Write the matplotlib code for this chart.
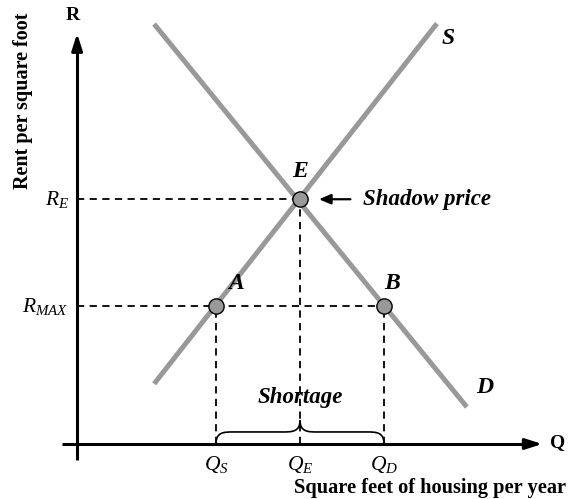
import matplotlib
matplotlib.use("Agg")
import matplotlib.pyplot as plt
from matplotlib.path import Path
from matplotlib.patches import PathPatch

plt.rcParams['font.family'] = ['Liberation Serif', 'DejaVu Serif']
plt.rcParams['mathtext.fontset'] = 'custom'
plt.rcParams['mathtext.rm'] = 'Liberation Serif'
plt.rcParams['mathtext.it'] = 'Liberation Serif:italic'
plt.rcParams['mathtext.bf'] = 'Liberation Serif:bold'

# ---- data (economic units) ----
supply_q = [2.79, 12.89]
supply_r = [2.25, 15.72]
demand_q = [2.79, 13.96]
demand_r = [15.70, 1.38]
Q_S, Q_E, Q_D = 5.0, 8.0, 11.0
R_MAX, R_E = 5.15, 9.15
points_q = [Q_S, Q_E, Q_D]
points_r = [R_MAX, R_E, R_MAX]
q_tick_labels = [r'$Q_S$', r'$Q_E$', r'$Q_D$']
r_tick_labels = [r'$R_{MAX}$', r'$R_E$']

fig = plt.figure(figsize=(5.69, 4.99), dpi=100)
ax = fig.add_axes([0, 0, 1, 1])
ax.set_xlim(-2.714, 17.607)
ax.set_ylim(-2.056, 16.598)
ax.axis('off')

# axes with arrows
ax.plot([0.04, 0.04], [-0.6, 15.0], color='black', lw=2.2, solid_capstyle='butt')
ax.annotate('', xy=(0.04, 15.45), xytext=(0.04, 14.6),
            arrowprops=dict(arrowstyle='-|>,head_length=1.0,head_width=0.32', color='black', lw=2.2))
ax.plot([-0.5, 16.3], [0, 0], color='black', lw=2.2, solid_capstyle='butt')
ax.annotate('', xy=(16.75, 0), xytext=(15.9, 0),
            arrowprops=dict(arrowstyle='-|>,head_length=1.0,head_width=0.32', color='black', lw=2.2))

# curves
curve_color = '#999999'
ax.plot(supply_q, supply_r, color=curve_color, lw=3.6, solid_capstyle='butt', zorder=3)
ax.plot(demand_q, demand_r, color=curve_color, lw=3.6, solid_capstyle='butt', zorder=3)

# dashed guides
dash = dict(color='black', lw=1.3, dashes=(4, 3), zorder=2)
ax.plot([0.04, Q_E], [R_E, R_E], **dash)
ax.plot([0.04, Q_D], [R_MAX, R_MAX], **dash)
for q, r in zip(points_q, points_r):
    ax.plot([q, q], [0, r], **dash)

# points
ax.plot(points_q, points_r, 'o', ms=11, mfc='#999999', mec='black', mew=1.0, zorder=5)

lab_kw = dict(fontsize=17, fontweight='bold', fontstyle='italic', ha='center', va='center')
ax.text(Q_S + 0.7, R_MAX + 0.85, 'A', **lab_kw)
ax.text(Q_E, R_E + 1.05, 'E', **lab_kw)
ax.text(Q_D + 0.3, R_MAX + 0.85, 'B', **lab_kw)
ax.text(13.3, 15.15, 'S', **lab_kw)
ax.text(14.6, 2.1, 'D', **lab_kw)

# shadow price arrow
ax.annotate('', xy=(Q_E + 0.58, R_E), xytext=(Q_E + 1.9, R_E),
            arrowprops=dict(arrowstyle='-|>,head_length=0.7,head_width=0.3', color='black', lw=1.6))
ax.text(Q_E + 2.25, R_E, 'Shadow price', fontsize=16.5, fontweight='bold', fontstyle='italic',
        ha='left', va='center')

# brace
h1, h2 = 0.45, 0.88
verts = [(Q_S, 0.02), (Q_S, h1), (Q_S + 0.3, h1), (Q_S + 0.6, h1),
         (Q_E - 0.6, h1), (Q_E - 0.6, h1), (Q_E - 0.3, h1), (Q_E, h1), (Q_E, h2),
         (Q_E, h1), (Q_E + 0.3, h1), (Q_E + 0.6, h1),
         (Q_D - 0.6, h1), (Q_D - 0.6, h1), (Q_D - 0.3, h1), (Q_D, h1), (Q_D, 0.02)]
codes = [Path.MOVETO, Path.CURVE4, Path.CURVE4, Path.CURVE4,
         Path.LINETO, Path.LINETO, Path.CURVE4, Path.CURVE4, Path.CURVE4,
         Path.CURVE4, Path.CURVE4, Path.CURVE4,
         Path.LINETO, Path.LINETO, Path.CURVE4, Path.CURVE4, Path.CURVE4]
ax.add_patch(PathPatch(Path(verts, codes), fill=False, lw=1.2, color='black', zorder=4))
ax.text(Q_E, 1.75, 'Shortage', fontsize=16.5, fontweight='bold', fontstyle='italic',
        ha='center', va='center')

# tick-like labels
for q, lab in zip(points_q, q_tick_labels):
    ax.text(q, -0.75, lab, fontsize=15.5, ha='center', va='center')
ax.text(-0.25, R_MAX, r_tick_labels[0], fontsize=15.5, ha='right', va='center')
ax.text(-0.25, R_E, r_tick_labels[1], fontsize=15.5, ha='right', va='center')

# axis letters and titles
ax.text(-0.1, 16.0, 'R', fontsize=14, fontweight='bold', ha='center', va='center')
ax.text(17.2, 0.05, 'Q', fontsize=14, fontweight='bold', ha='center', va='center')
ax.text(-1.9, 12.85, 'Rent per square foot', fontsize=14.5, fontweight='bold',
        rotation=90, ha='center', va='center')
ax.text(17.5, -1.65, 'Square feet of housing per year', fontsize=14.7, fontweight='bold',
        ha='right', va='center')

fig.savefig('out.png', dpi=100)
